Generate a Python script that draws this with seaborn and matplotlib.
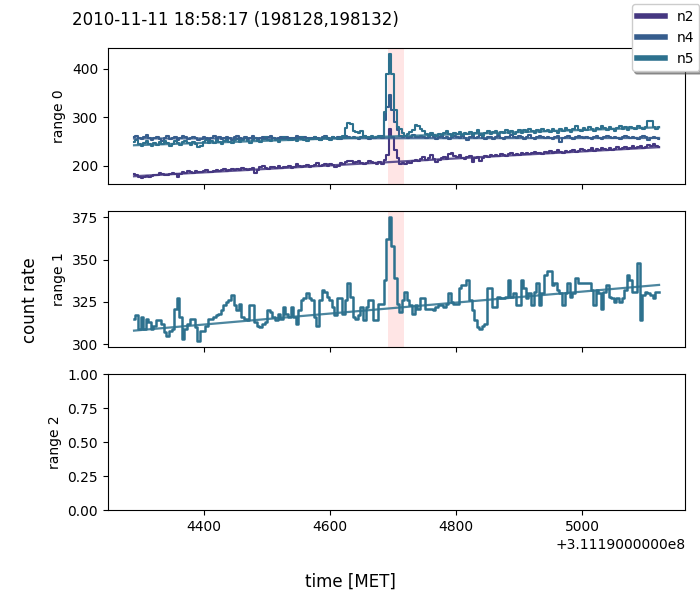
import numpy as np
import pandas as pd
import matplotlib
matplotlib.use('Agg')
import matplotlib.pyplot as plt
from matplotlib.lines import Line2D
from matplotlib.ticker import ScalarFormatter
import seaborn as sns

MET0 = 311190000.0
T_START = 4290.0
BIN = 4.096
SPAN = (4692.0, 4717.0)
TITLE = '2010-11-11 18:58:17 (198128,198132)'
detectors = ['n2', 'n4', 'n5']

# range 0 count rates
n2_r0 = [182, 180, 176, 175, 177, 179, 176, 178, 181, 180,
         185, 183, 181, 180, 182, 184, 183, 176, 182, 186,
         185, 188, 186, 185, 189, 187, 186, 188, 190, 187,
         186, 189, 191, 188, 190, 193, 189, 191, 194, 190,
         192, 191, 195, 193, 190, 192, 196, 184, 191, 197,
         199, 195, 193, 198, 197, 195, 199, 196, 198, 197,
         199, 196, 198, 203, 200, 197, 199, 201, 198, 200,
         202, 205, 199, 201, 204, 200, 203, 202, 197, 200,
         205, 203, 208, 210, 209, 205, 207, 210, 206, 204,
         206, 210, 208, 205, 203, 207, 204, 212, 222, 275,
         259, 233, 216, 204, 206, 203, 208, 205, 210, 212,
         209, 214, 218, 212, 216, 221, 214, 208, 212, 215,
         217, 213, 224, 226, 220, 218, 221, 216, 213, 217,
         219, 208, 215, 217, 210, 216, 220, 218, 221, 219,
         222, 220, 224, 221, 219, 223, 226, 222, 224, 221,
         225, 223, 227, 224, 226, 229, 225, 227, 224, 228,
         227, 230, 226, 228, 232, 229, 227, 231, 228, 230,
         232, 229, 231, 235, 232, 230, 233, 236, 231, 234,
         233, 237, 234, 232, 236, 233, 235, 238, 234, 236,
         238, 235, 237, 240, 236, 238, 241, 237, 239, 243,
         241, 244, 240, 238]
n4_r0 = [258, 262, 256, 254, 259, 263, 257, 253, 256, 260,
         255, 251, 257, 261, 254, 256, 259, 253, 257, 262,
         258, 254, 256, 260, 257, 252, 255, 259, 256, 253,
         257, 261, 255, 258, 254, 256, 260, 257, 253, 258,
         262, 256, 254, 259, 255, 257, 261, 256, 252, 256,
         259, 255, 258, 262, 257, 254, 256, 260, 255, 258,
         256, 253, 257, 261, 258, 255, 259, 256, 254, 257,
         260, 256, 253, 258, 262, 257, 255, 259, 256, 258,
         255, 259, 262, 258, 256, 260, 257, 254, 258, 261,
         257, 255, 259, 256, 258, 260, 262, 294, 320, 345,
         314, 290, 273, 262, 258, 261, 257, 259, 263, 260,
         258, 262, 259, 256, 260, 264, 258, 255, 259, 262,
         257, 260, 254, 258, 262, 259, 256, 261, 257, 252,
         258, 261, 256, 259, 263, 257, 255, 260, 258, 254,
         259, 262, 257, 255, 260, 258, 264, 259, 256, 261,
         258, 255, 260, 263, 257, 254, 259, 262, 258, 256,
         260, 257, 255, 259, 262, 248, 256, 259, 261, 257,
         255, 259, 262, 258, 256, 260, 257, 254, 258, 261,
         257, 255, 259, 262, 258, 256, 260, 257, 255, 259,
         262, 258, 256, 260, 257, 255, 259, 262, 258, 253,
         256, 260, 257, 255]
n5_r0 = [248, 252, 244, 240, 246, 250, 245, 241, 247, 243,
         249, 244, 251, 247, 240, 245, 250, 246, 242, 248,
         251, 247, 243, 249, 245, 239, 241, 248, 252, 246,
         250, 247, 253, 249, 245, 251, 254, 248, 246, 252,
         255, 249, 252, 256, 250, 247, 253, 257, 251, 249,
         254, 258, 252, 250, 256, 253, 249, 255, 259, 254,
         252, 257, 254, 250, 256, 259, 253, 251, 257, 255,
         258, 254, 252, 257, 260, 255, 253, 258, 256, 254,
         259, 262, 278, 287, 286, 272, 270, 268, 271, 262,
         260, 258, 262, 257, 259, 261, 256, 310, 390, 430,
         390, 314, 280, 275, 268, 262, 266, 270, 274, 283,
         282, 276, 271, 266, 262, 268, 264, 261, 266, 263,
         267, 272, 265, 262, 268, 266, 270, 263, 268, 266,
         270, 264, 268, 273, 266, 262, 268, 271, 265, 269,
         272, 266, 270, 268, 274, 267, 271, 265, 270, 273,
         268, 274, 270, 276, 271, 267, 273, 269, 275, 271,
         274, 270, 276, 272, 268, 275, 271, 277, 273, 270,
         276, 281, 274, 271, 277, 273, 279, 275, 272, 278,
         275, 281, 277, 273, 279, 276, 272, 278, 281, 276,
         279, 274, 280, 277, 275, 281, 278, 276, 279, 293,
         292, 279, 276, 279]

# range 1 count rate
r1 = [315, 317, 309, 316, 309, 315, 313, 309, 311, 314,
      314, 312, 307, 305, 308, 309, 321, 327, 316, 303,
      309, 312, 315, 315, 310, 302, 308, 308, 311, 315,
      315, 316, 317, 318, 320, 323, 325, 326, 329, 323,
      320, 324, 316, 315, 314, 323, 323, 313, 311, 310,
      312, 313, 320, 319, 316, 314, 318, 315, 322, 318,
      316, 322, 316, 312, 320, 326, 327, 330, 327, 326,
      316, 311, 326, 332, 331, 328, 326, 322, 317, 327,
      327, 318, 326, 336, 328, 316, 315, 317, 322, 314,
      322, 326, 326, 314, 314, 324, 324, 338, 362, 375,
      358, 339, 324, 319, 326, 331, 326, 323, 318, 323,
      321, 327, 327, 321, 321, 321, 320, 322, 323, 323,
      322, 324, 330, 325, 324, 324, 333, 335, 335, 338,
      326, 320, 314, 310, 309, 311, 312, 333, 333, 322,
      322, 328, 327, 327, 328, 338, 328, 330, 323, 323,
      338, 333, 327, 330, 323, 331, 336, 323, 330, 341,
      343, 343, 335, 336, 332, 330, 323, 330, 336, 328,
      330, 339, 336, 336, 336, 336, 336, 332, 323, 332,
      330, 321, 331, 335, 328, 327, 325, 327, 325, 327,
      332, 341, 338, 331, 331, 348, 314, 329, 331, 330,
      329, 327, 331, 331]

# linear background: value at first and last bin
bkg_r0 = {'n2': [178, 238], 'n4': [256, 257], 'n5': [242, 279]}
bkg_r1 = {'n5': [308, 335]}

cmap = sns.color_palette('viridis', as_cmap=True)
colors = {'n2': cmap(0.16), 'n4': cmap(0.29), 'n5': cmap(0.37)}

t = MET0 + T_START + BIN * np.arange(len(r1))
rows = []
for det, vals in zip(detectors, [n2_r0, n4_r0, n5_r0]):
    rows.append(pd.DataFrame({'time': t, 'rate': vals, 'detector': det}))
df0 = pd.concat(rows, ignore_index=True)
df1 = pd.DataFrame({'time': t, 'rate': r1, 'detector': 'n5'})


class MetFormatter(ScalarFormatter):
    def get_offset(self):
        if not self.offset:
            return ''
        exp = int(np.floor(np.log10(abs(self.offset))))
        return f'+{self.offset / 10**exp:.10f}e{exp}'


fig, axes = plt.subplots(3, 1, figsize=(7, 6), sharex=True)
fig.subplots_adjust(left=0.154, right=0.979, top=0.92, bottom=0.15, hspace=0.2)

for ax, df, bkg, lw in [(axes[0], df0, bkg_r0, 1.5), (axes[1], df1, bkg_r1, 1.8)]:
    sns.lineplot(data=df, x='time', y='rate', hue='detector', palette=colors,
                 drawstyle='steps-mid', lw=lw, legend=False, ax=ax)
    for det, (b0, b1) in bkg.items():
        ax.plot([t[0], t[-1]], [b0, b1], color=colors[det], lw=1.6, alpha=0.85)
    ax.axvspan(MET0 + SPAN[0], MET0 + SPAN[1], color='red', alpha=0.1, lw=0)

for i, ax in enumerate(axes):
    ax.set_ylabel(f'range {i}')
    ax.set_xlabel('')
axes[1].set_yticks([300, 325, 350, 375])
axes[2].xaxis.set_major_formatter(MetFormatter())

fig.text(0.103, 0.966, TITLE, ha='left', va='center', fontsize=12)
fig.supylabel('count rate', x=0.03, fontsize=12)
fig.supxlabel('time [MET]', y=0.015, fontsize=12)

handles = [Line2D([], [], color=colors[d], lw=4) for d in detectors]
fig.legend(handles, detectors, loc='upper right', shadow=True,
           bbox_to_anchor=(1.005, 1.0), borderaxespad=0.3)

fig.savefig('out.png', dpi=100)
